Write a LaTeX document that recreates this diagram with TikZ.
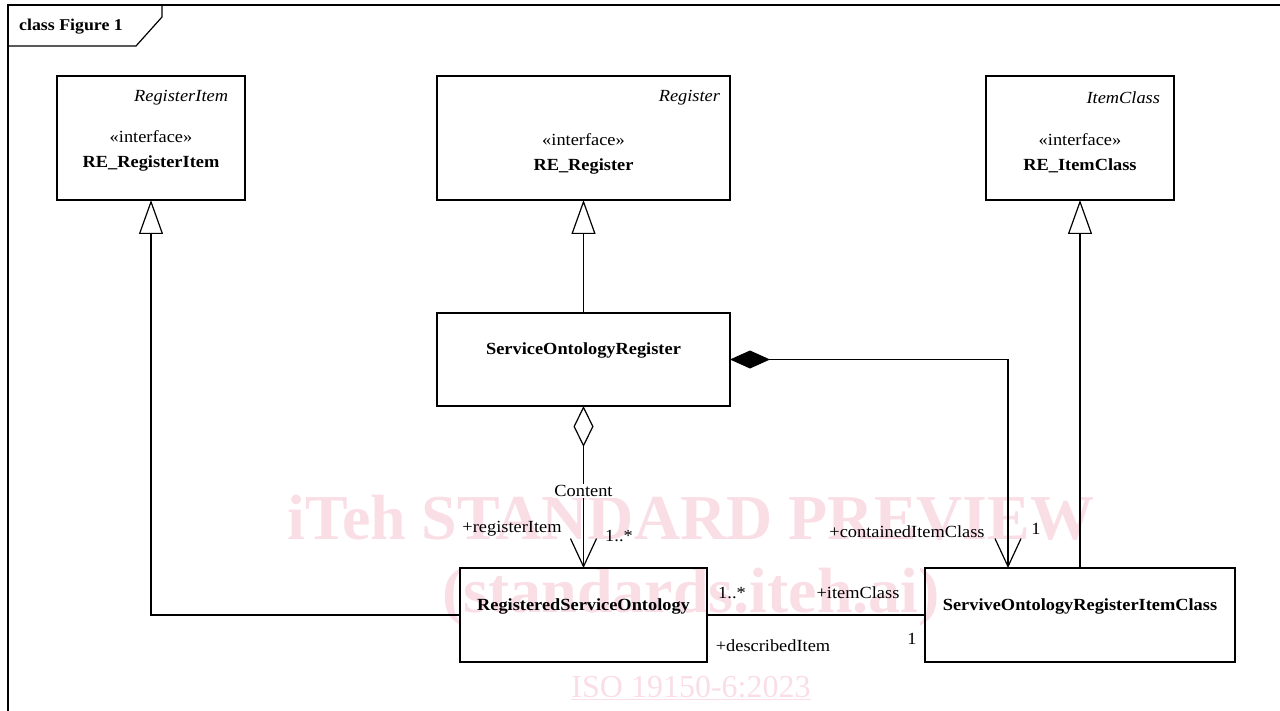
\documentclass[tikz,border=0pt]{standalone}
\usepackage{fontspec}
\setmainfont[FakeStretch=1.08]{Liberation Serif}
\newfontfamily\wmfont{Liberation Serif}
\usetikzlibrary{arrows.meta}
\definecolor{wmpink}{RGB}{250,222,230}
\begin{document}
\begin{tikzpicture}[x=1pt,y=-1pt,
  every node/.style={inner sep=0pt, outer sep=0pt},
  txt/.style={font=\fontsize{17}{20}\selectfont},
  ittxt/.style={font=\fontsize{17}{20}\selectfont\itshape},
  boxtxt/.style={font=\fontsize{17}{20}\selectfont\bfseries},
  box/.style={draw, line width=1.2pt},
  wm/.style={text=wmpink, font=\wmfont\fontsize{64}{70}\selectfont\bfseries},
  ln/.style={line width=1.2pt},
  gen/.style={ln, -{Triangle[open, length=34pt, width=24pt, line width=1.2pt]}},
  agg/.style={ln, {Diamond[open, length=41pt, width=20pt, line width=1.2pt]}-{Straight Barb[length=28pt, width=26pt, line width=1.2pt]}},
  comp/.style={ln, {Diamond[fill=black, length=40pt, width=18pt]}-{Straight Barb[length=28pt, width=26pt, line width=1.2pt]}}
]
\useasboundingbox (0,0) rectangle (1280,711);
% watermark
\node[wm] (wm1) at (691,518) {iTeh STANDARD PREVIEW};
\node[wm] (wm2) at (691,597) {(standards.iteh.ai)};
\node[text=wmpink, font=\wmfont\fontsize{32}{36}\selectfont] (wm3) at (691,688) {\underline{ISO 19150-6:2023}};
% frame
\draw[line width=1.3pt] (8,711) -- (8,5) -- (1280,5);
\draw[line width=1.2pt] (8,46) -- (136,46) -- (162,17) -- (162,5);
\node[font=\fontsize{16.5}{19}\selectfont\bfseries] (title) at (71,27) {class Figure 1};
% boxes
\node[box, minimum width=188pt, minimum height=124pt] (ri) at (151,138) {};
\node[ittxt, anchor=east] (riS) at (228,98) {RegisterItem};
\node[txt] (riI) at (151,137) {«interface»};
\node[boxtxt] (riN) at (151,163) {RE\_RegisterItem};

\node[box, minimum width=293pt, minimum height=124pt] (reg) at (583.5,138) {};
\node[ittxt, anchor=east] (regS) at (720,98) {Register};
\node[txt] (regI) at (583.5,140) {«interface»};
\node[boxtxt] (regN) at (583.5,166) {RE\_Register};

\node[box, minimum width=188pt, minimum height=124pt] (ic) at (1080,138) {};
\node[ittxt, anchor=east] (icS) at (1160,98) {ItemClass};
\node[txt] (icI) at (1080,140) {«interface»};
\node[boxtxt] (icN) at (1080,166) {RE\_ItemClass};

\node[box, minimum width=293pt, minimum height=93pt] (sor) at (583.5,359.5) {};
\node[boxtxt] (sorN) at (583.5,350) {ServiceOntologyRegister};

\node[box, minimum width=247pt, minimum height=94pt] (rso) at (583.5,615) {};
\node[boxtxt] (rsoN) at (583.5,606) {RegisteredServiceOntology};

\node[box, minimum width=310pt, minimum height=94pt] (sic) at (1080,615) {};
\node[boxtxt] (sicN) at (1080,606) {ServiveOntologyRegisterItemClass};

% generalizations
\draw[gen] (rso.west) -| (ri.south);
\draw[gen] (sor.north) -- (reg.south);
\draw[gen] (sic.north) -- (ic.south);
% aggregation
\draw[agg] (sor.south) -- (rso.north);
\node[txt, fill=white, inner sep=1pt] (content) at (583.5,491) {Content};
\node[txt] (regItem) at (512,529) {+registerItem};
\node[txt] (m1) at (619,536) {1..*};
% composition
\coordinate (cbend) at (1008,359.5);
\draw[comp] (sor.east) -- (cbend) -- (cbend |- sic.north);
\node[txt] (cic) at (907,532) {+containedItemClass};
\node[txt] (m2) at (1036,529) {1};
% association
\draw[ln] (rso.east) -- (sic.west);
\node[txt] (m3) at (732,593) {1..*};
\node[txt] (itc) at (858,593) {+itemClass};
\node[txt] (dsc) at (773,646) {+describedItem};
\node[txt] (m4) at (912,639) {1};
\end{tikzpicture}
\end{document}
